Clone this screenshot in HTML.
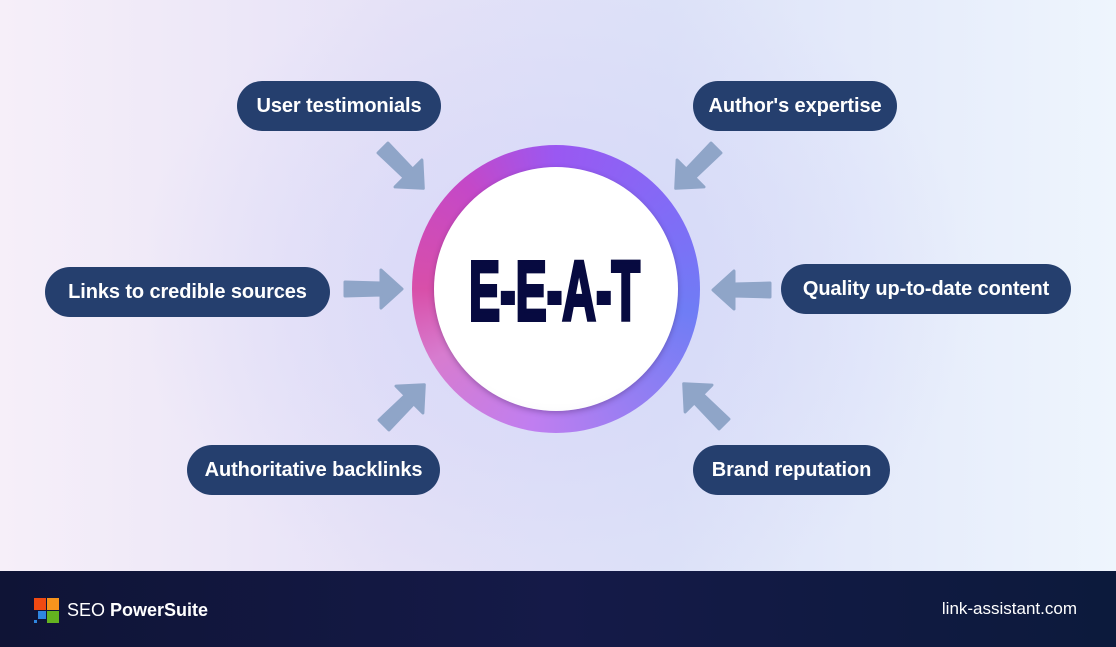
<!DOCTYPE html>
<html><head><meta charset="utf-8"><style>
*{margin:0;padding:0;box-sizing:border-box}
body{width:1116px;height:647px;overflow:hidden;position:relative;font-family:"Liberation Sans",Arial,sans-serif;
background:linear-gradient(90deg,#f6eff9 0%,#e6e2f7 35%,#dde2f8 60%,#eef5fd 100%)}
.glow{position:absolute;left:0;top:0;width:1116px;height:571px;background:radial-gradient(ellipse 420px 330px at 556px 289px,rgba(210,212,248,0.8),rgba(210,212,248,0) 100%)}
.pill{position:absolute;height:50px;border-radius:25px;background:#253f6e;color:#fff;font-weight:bold;font-size:20px;line-height:50px;text-align:center;white-space:nowrap;letter-spacing:-0.1px}
.ring{position:absolute;left:412px;top:145px;width:288px;height:288px;border-radius:50%;
background:conic-gradient(from 0deg,#9a58f2 0deg,#7f6df6 60deg,#6f7df5 100deg,#9a7ef2 150deg,#c07ef0 190deg,#d77ccf 240deg,#d84fa9 270deg,#c448c8 320deg,#9a58f2 360deg)}
.inner{position:absolute;left:434px;top:167px;width:244px;height:244px;border-radius:50%;
background:radial-gradient(circle at 50% 45%,#fff 70%,#f1f1f3 88%,#d8d8dc 100%);box-shadow:0 2px 6px rgba(60,30,90,0.35)}
.foot{position:absolute;left:0;top:571px;width:1116px;height:76px;background:linear-gradient(90deg,#0f1436,#151a48 50%,#0c1a3c)}
</style></head><body>
<div class="glow"></div>
<div class="pill" style="left:237px;top:81px;width:204px">User testimonials</div>
<div class="pill" style="left:693px;top:81px;width:204px">Author's expertise</div>
<div class="pill" style="left:45px;top:267px;width:285px">Links to credible sources</div>
<div class="pill" style="left:781px;top:264px;width:290px">Quality up-to-date content</div>
<div class="pill" style="left:187px;top:445px;width:253px">Authoritative backlinks</div>
<div class="pill" style="left:693px;top:445px;width:197px">Brand reputation</div>
<svg width="1116" height="647" style="position:absolute;left:0;top:0">
<defs><polygon id="ar" points="0,-7 36,-6 36,-19 57,0 36,19 36,6 0,7" fill="#8fa5c8" stroke="#8fa5c8" stroke-width="3" stroke-linejoin="round"/></defs>
<use href="#ar" transform="translate(345,289)"/>
<use href="#ar" transform="translate(770,290) rotate(180)"/>
<use href="#ar" transform="translate(383,148) rotate(45)"/>
<use href="#ar" transform="translate(716,148) rotate(135)"/>
<use href="#ar" transform="translate(384,425) rotate(-45)"/>
<use href="#ar" transform="translate(724,424) rotate(-135)"/>
</svg>
<div class="ring"></div>
<div class="inner"></div>
<svg width="1116" height="647" style="position:absolute;left:0;top:0">
<text x="469" y="320" textLength="171" lengthAdjust="spacingAndGlyphs" font-family="Liberation Sans Narrow, Liberation Sans, sans-serif" font-weight="bold" font-size="84" fill="#070a40" stroke="#070a40" stroke-width="4" stroke-linejoin="miter">E-E-A-T</text>
</svg>
<div class="foot">
 <div style="position:absolute;left:34px;top:27px;width:12px;height:12px;background:#f04a12"></div>
 <div style="position:absolute;left:47px;top:27px;width:12px;height:12px;background:#f7941d"></div>
 <div style="position:absolute;left:38px;top:40px;width:8px;height:8px;background:#2f86e0"></div>
 <div style="position:absolute;left:34px;top:49px;width:3px;height:3px;background:#2f86e0"></div>
 <div style="position:absolute;left:47px;top:40px;width:12px;height:12px;background:#64b320"></div>
 <div style="position:absolute;left:67px;top:28px;color:#fff;font-size:18px;line-height:22px">SEO <b>PowerSuite</b></div>
 <div style="position:absolute;right:39px;top:27px;color:#fff;font-size:17px;line-height:22px">link-assistant.com</div>
</div>
</body></html>
